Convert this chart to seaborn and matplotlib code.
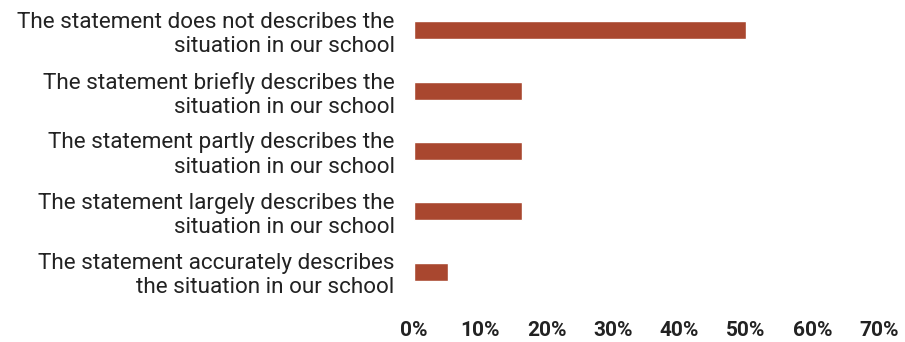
import matplotlib
matplotlib.use("Agg")
import matplotlib.pyplot as plt
import seaborn as sns
import pandas as pd
from matplotlib.ticker import PercentFormatter

categories = [
    "The statement does not describes the\nsituation in our school",
    "The statement briefly describes the\nsituation in our school",
    "The statement partly describes the\nsituation in our school",
    "The statement largely describes the\nsituation in our school",
    "The statement accurately describes\nthe situation in our school",
]
shares = [0.50, 0.163, 0.163, 0.163, 0.051]
x_ticks = [0.0, 0.1, 0.2, 0.3, 0.4, 0.5, 0.6, 0.7]

df = pd.DataFrame({"category": categories, "share": shares})

sns.set_theme(style="white")
plt.rcParams["font.family"] = ["Roboto", "DejaVu Sans"]

fig = plt.figure(figsize=(9.05, 3.42), dpi=100)
ax = fig.add_axes([0.4575, 0.117, 0.5136, 0.883])

sns.barplot(data=df, x="share", y="category", orient="h", color="#A9472F",
            saturation=1, width=0.3, ax=ax)

ax.set_xlim(0, 0.7)
ax.set_xticks(x_ticks)
ax.xaxis.set_major_formatter(PercentFormatter(1.0, decimals=0))
ax.set_xlabel("")
ax.set_ylabel("")
sns.despine(ax=ax, left=True, bottom=True)
ax.tick_params(axis="x", length=0, pad=14, labelsize=15, labelcolor="#222222")
ax.tick_params(axis="y", length=0, pad=14, labelsize=16.2, labelcolor="#222222")
for lbl in ax.get_xticklabels():
    lbl.set_fontweight("bold")
for lbl in ax.get_yticklabels():
    lbl.set_multialignment("right")
    lbl.set_linespacing(1.2)

fig.savefig("out.png", dpi=100)
